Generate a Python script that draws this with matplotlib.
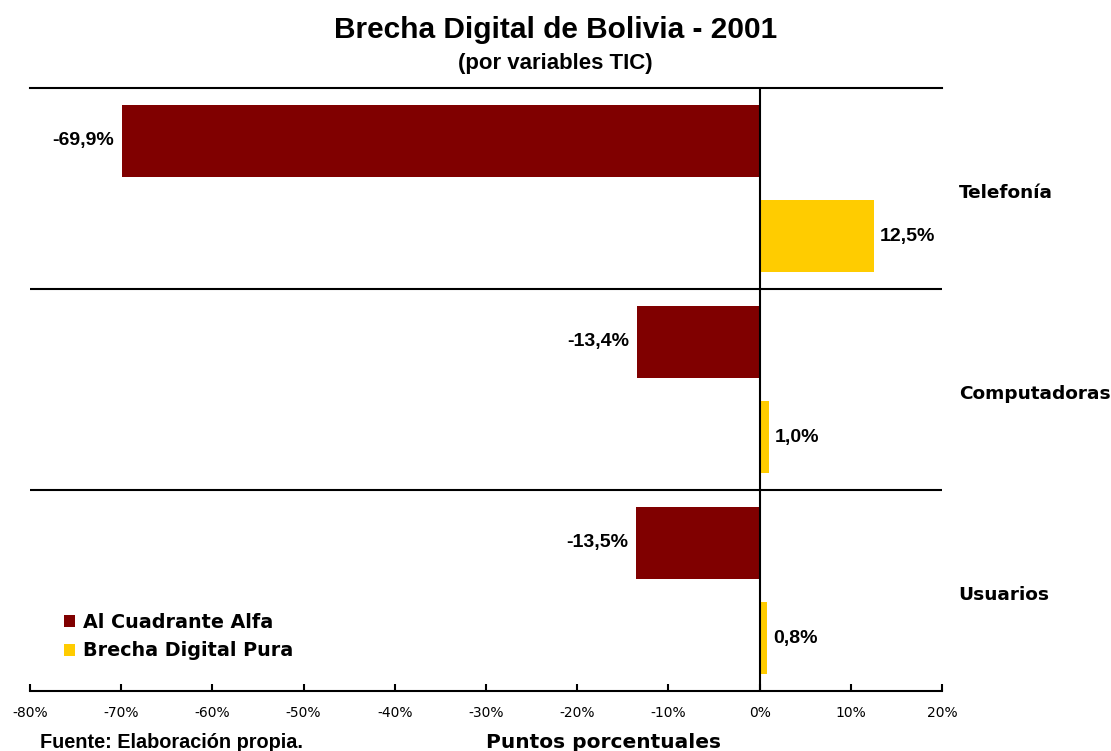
import matplotlib
matplotlib.use("Agg")
import matplotlib.pyplot as plt
import numpy as np
from matplotlib.ticker import FuncFormatter

categories = ["Telefonía", "Computadoras", "Usuarios"]
alfa = [-69.9, -13.4, -13.5]
pura = [12.5, 1.0, 0.8]
series_names = ["Al Cuadrante Alfa", "Brecha Digital Pura"]
xticks = [-80, -70, -60, -50, -40, -30, -20, -10, 0, 10, 20]

fig = plt.figure(figsize=(11.11, 7.51), dpi=100)
ax = fig.add_axes([30/1111, 1-691/751, (942-30)/1111, (691-88)/751])

y = np.arange(len(categories))
h = 0.355
off = 0.237
b1 = ax.barh(y - off, alfa, height=h, color="#800000", label=series_names[0])
b2 = ax.barh(y + off, pura, height=h, color="#FFCC00", label=series_names[1])

fmt = lambda v: f"{v:.1f}".replace(".", ",") + "%"
ax.bar_label(b1, labels=[fmt(v) for v in alfa], padding=6,
             fontsize=14, fontweight="bold", family="Liberation Sans")
ax.bar_label(b2, labels=[fmt(v) for v in pura], padding=4.5,
             fontsize=14, fontweight="bold", family="Liberation Sans")

ax.set_xlim(-80, 20)
ax.set_ylim(2.5, -0.5)
ax.set_xticks(xticks)
ax.xaxis.set_major_formatter(FuncFormatter(lambda v, p: f"{v:.0f}%"))
ax.tick_params(axis="x", direction="in", length=5, width=1.5, pad=11,
               labelsize=10, colors="black")
ax.set_yticks(y + 0.012)
ax.set_yticklabels(categories, fontsize=13.3, fontweight="bold")
ax.yaxis.tick_right()
ax.tick_params(axis="y", length=0, pad=12)

for s in ["left", "right"]:
    ax.spines[s].set_visible(False)
for s in ["top", "bottom"]:
    ax.spines[s].set_linewidth(1.5)
for yy in [0.5, 1.5]:
    ax.axhline(yy, color="black", lw=1.5)
ax.axvline(0, color="black", lw=1.5)

leg = ax.legend(loc="lower left", bbox_to_anchor=(0.018, 0.022), frameon=False,
                handlelength=0.6, handleheight=0.6, handletextpad=0.4,
                labelspacing=0.52, prop={"size": 13.8, "weight": "bold"})

fig.text(0.5, 1-30/751, "Brecha Digital de Bolivia - 2001", ha="center", va="center",
         fontsize=21.5, fontweight="bold", family="Liberation Sans")
fig.text(0.5, 1-64/751, "(por variables TIC)", ha="center", va="center",
         fontsize=16, fontweight="bold", family="Liberation Sans")
fig.text(40/1111, 1-742/751, "Fuente: Elaboración propia.", ha="left", va="center",
         fontsize=14.3, fontweight="bold", family="Liberation Sans")
fig.text(604/1111, 1-742/751, "Puntos porcentuales", ha="center", va="center",
         fontsize=14.5, fontweight="bold")

fig.savefig("out.png", dpi=100)
